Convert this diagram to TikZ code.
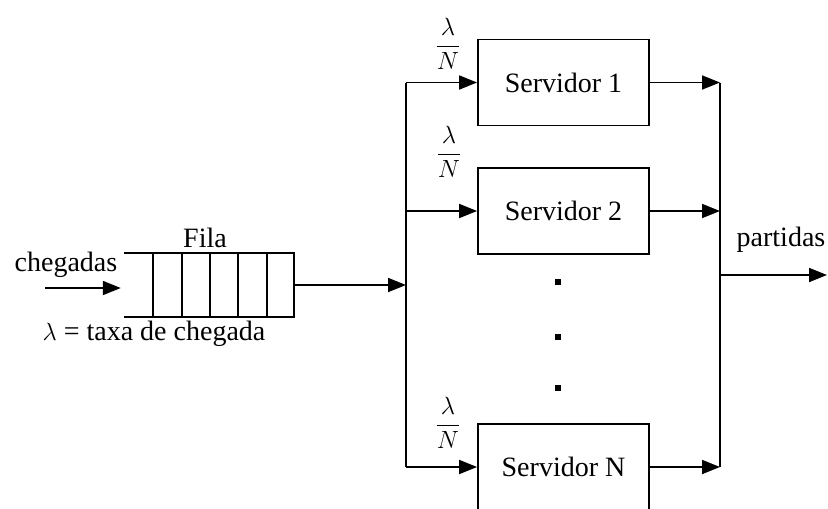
\documentclass[tikz,border=0pt]{standalone}
\usepackage{fontspec}
\setmainfont{Liberation Serif}
\usetikzlibrary{arrows.meta}
\begin{document}
\begin{tikzpicture}[x=1pt,y=-1pt,
  every node/.style={font=\fontsize{28}{31}\selectfont},
  server/.style={draw, line width=1.8pt, minimum width=171pt, minimum height=86pt, inner sep=0pt},
  conn/.style={line width=1.8pt},
  arr/.style={conn, -{Triangle[length=18pt,width=14pt]}},
  lbl/.style={inner sep=0pt},
  frac/.style={inner sep=0pt, font=\fontsize{34}{38}\selectfont},
  dotbox/.style={fill, minimum size=6pt, inner sep=0pt},
  queuebox/.style={minimum width=170pt, minimum height=64pt, inner sep=0pt}
]
\useasboundingbox[fill=white] (0,0) rectangle (828,509);

% queue
\node[queuebox] (fila) at (209,285) {};
\draw[conn] (fila.north west) -- (fila.north east) -- (fila.south east) -- (fila.south west);
\foreach \x in {29,58,86,114,143}
  \draw[conn] ([xshift=\x pt]fila.north west) -- ([xshift=\x pt]fila.south west);
\node[lbl] (filalbl) at (205,238) {Fila};
\node[lbl] (cheg) at (66,265) {chegadas};
\node[lbl] (taxa) at (154,334) {$\lambda$ = taxa de chegada};
\coordinate (in) at (45,288);
\draw[arr, shorten >=3pt] (in) -- (in -| fila.west);

% servers
\node[server] (s1) at (563.5,82.5) {Servidor 1};
\node[server] (s2) at (563.5,211) {Servidor 2};
\node[server] (sN) at (563.5,467) {Servidor N};

\node[frac] (f1) at (448,44) {$\displaystyle\frac{\lambda}{N}$};
\node[frac] (f2) at (449,152) {$\displaystyle\frac{\lambda}{N}$};
\node[frac] (fN) at (448,423) {$\displaystyle\frac{\lambda}{N}$};

\node[dotbox] (d1) at (558,282) {};
\node[dotbox] (d2) at (558,337) {};
\node[dotbox] (d3) at (558,388) {};

% left bus
\coordinate (busL) at (406,0);
\draw[conn] (busL |- s1.west) -- (busL |- sN.west);
\draw[arr] (fila.east) -- (fila.east -| busL);
\draw[arr] (busL |- s1.west) -- (s1.west);
\draw[arr] (busL |- s2.west) -- (s2.west);
\draw[arr] (busL |- sN.west) -- (sN.west);

% right bus
\coordinate (busR) at (720,0);
\draw[conn] (busR |- s1.east) -- (busR |- sN.east);
\draw[arr] (s1.east) -- (s1.east -| busR);
\draw[arr] (s2.east) -- (s2.east -| busR);
\draw[arr] (sN.east) -- (sN.east -| busR);

\coordinate (out) at (827,275);
\draw[arr] (busR |- out) -- (out);
\node[lbl] (part) at (781,240) {partidas};
\end{tikzpicture}
\end{document}
